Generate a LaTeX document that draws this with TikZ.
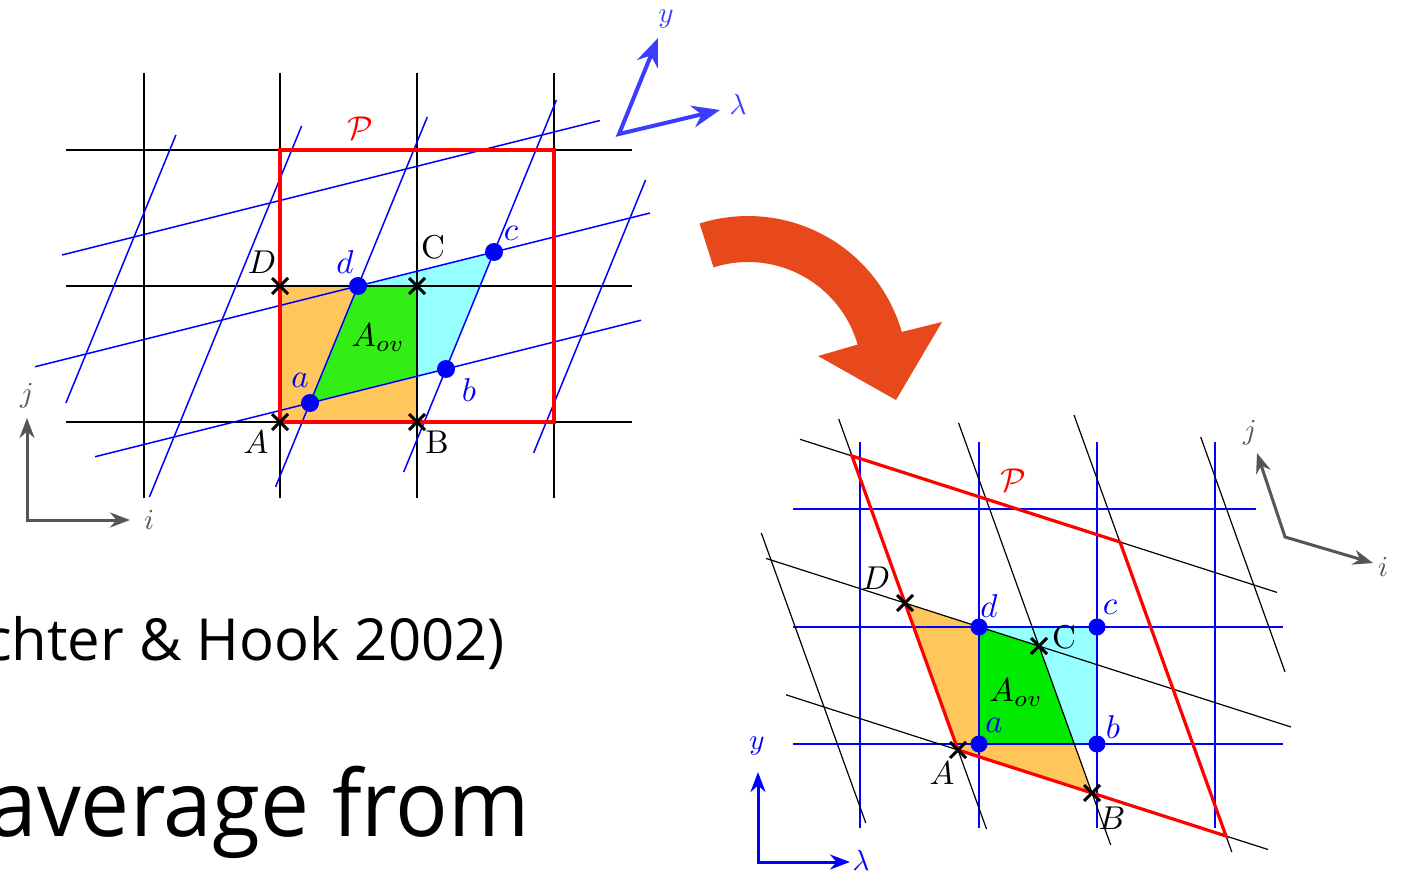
\documentclass[tikz,border=0pt]{standalone}
\usepackage{fontspec}
\newfontfamily\gillish{Open Sans}
\usetikzlibrary{arrows.meta,calc}
\definecolor{lorange}{RGB}{255,198,92}
\definecolor{lcyan}{RGB}{150,255,255}
\definecolor{lgreen}{RGB}{50,238,20}
\definecolor{rgreen}{RGB}{0,235,0}
\definecolor{axgray}{RGB}{85,85,85}
\definecolor{axblue}{RGB}{60,60,255}
\definecolor{arrowor}{RGB}{232,73,28}
\tikzset{
  gridk/.style={black,line width=1.4pt},
  gridb/.style={blue,line width=1.5pt},
  perim/.style={red,line width=3.2pt,line join=miter},
  xmark/.style={black,line width=3pt},
  dotb/.style={fill=blue,draw=none},
  lbl/.style={inner sep=0pt},
  lblb/.style={lbl,text=blue},
  axlbl/.style={inner sep=0pt},
}
\newcommand{\lab}[1]{\scalebox{3.3}{#1}}
\newcommand{\axl}[1]{\scalebox{2.9}{#1}}
\newcommand{\xcross}[1]{\draw[xmark] ($(#1)+(-8,-8)$) -- ($(#1)+(8,8)$) ($(#1)+(-8,8)$) -- ($(#1)+(8,-8)$);}
\begin{document}
\begin{tikzpicture}[x=1pt,y=-1pt]
\useasboundingbox (0,0) rectangle (1408,874);
\clip (0,0) rectangle (1408,874);
\fill[white] (0,0) rectangle (1408,874);
% ================= LEFT DIAGRAM =================
\coordinate (LA) at (280,422);
\coordinate (LB) at (417,422);
\coordinate (LC) at (417,286);
\coordinate (LD) at (280,286);
\coordinate (la) at (310,403);
\coordinate (lb) at (446,369);
\coordinate (lc) at (494,252);
\coordinate (ld) at (358,286);
\fill[lorange] (LA) rectangle (LC);
\fill[lcyan] (la) -- (lb) -- (lc) -- (ld) -- cycle;
\begin{scope}
  \clip (LA) rectangle (LC);
  \fill[lgreen] (la) -- (lb) -- (lc) -- (ld) -- cycle;
\end{scope}
% black grid
\foreach \x in {144,280,417,554} \draw[gridk] (\x,73) -- (\x,498);
\foreach \y in {150,286,422} \draw[gridk] (66,\y) -- (632,\y);
% blue shallow lines
\draw[gridb] (95,456.75) -- (641,320.25);
\draw[gridb] (35,366.75) -- (650,213);
\draw[gridb] (62,255) -- (600,120.5);
% blue steep lines
\draw[gridb] (65.9,403) -- (175.9,135);
\draw[gridb] (149.4,497) -- (301.6,126);
\draw[gridb] (275.5,487) -- (427.3,117);
\draw[gridb] (403.7,472) -- (556.4,100);
\draw[gridb] (533.6,453) -- (645.6,180);
% red P
\draw[perim] (280,150) rectangle (554,422);
% crosses
\xcross{LA}\xcross{LB}\xcross{LC}\xcross{LD}
% dots
\foreach \p in {la,lb,lc,ld} \fill[dotb] (\p) circle (9);
% labels
\node[lbl,text=red] (lP) at (360,128) {\lab{$\mathcal{P}$}};
\node[lbl] (lDl) at (262,262) {\lab{$D$}};
\node[lbl] (lCl) at (433,247) {\lab{C}};
\node[lblb] (ldl) at (345,262) {\lab{$d$}};
\node[lblb] (lcl) at (511,233) {\lab{$c$}};
\node[lbl] (lAov) at (378,338) {\lab{$A_{ov}$}};
\node[lblb] (lal) at (300,380) {\lab{$a$}};
\node[lblb] (lbl) at (469,390) {\lab{$b$}};
\node[lbl] (lAl) at (256,442) {\lab{$A$}};
\node[lbl] (lBl) at (437,442) {\lab{B}};
% gray axes
\coordinate (lo) at (27,520);
\coordinate (ljt) at (27,418);
\coordinate (lit) at (130,520);
\draw[axgray,line width=3pt,{Stealth[length=20pt,width=15pt]}-{Stealth[length=20pt,width=15pt]}] (ljt) -- (lo) -- (lit);
\node[axlbl,text=axgray] (lj) at (27,396) {\axl{$j$}};
\node[axlbl,text=axgray] (li) at (149,520) {\axl{$i$}};
% blue rotated axes
\coordinate (bo) at (619,134);
\coordinate (byt) at (658,38);
\coordinate (blt) at (720,110);
\draw[axblue,line width=4pt,line join=miter,{Stealth[length=28pt,width=22pt]}-{Stealth[length=28pt,width=22pt]}] (byt) -- (bo) -- (blt);
\node[axlbl,text=axblue] (byl) at (666,19) {\axl{$y$}};
\node[axlbl,text=axblue] (bll) at (738,104) {\axl{$\lambda$}};
% ================= ORANGE ARROW =================
\fill[arrowor] (699.6,223.5) arc[start angle=-107.6,end angle=-16,radius=160]
  -- (942,322) -- (896,400) -- (818,356) -- (857.6,344.6)
  arc[start angle=-16,end angle=-107.6,radius=114] -- cycle;
% ================= RIGHT DIAGRAM =================
\coordinate (RA) at (958,750);
\coordinate (RB) at (1092,793);
\coordinate (RC) at (1039,646);
\coordinate (RD) at (905,603);
\coordinate (ra) at (979,744);
\coordinate (rb) at (1097,744);
\coordinate (rc) at (1097,627);
\coordinate (rd) at (979,627);
\fill[lorange] (RA) -- (RB) -- (RC) -- (RD) -- cycle;
\fill[lcyan] (ra) rectangle (rc);
\begin{scope}
  \clip (RA) -- (RB) -- (RC) -- (RD) -- cycle;
  \fill[rgreen] (ra) rectangle (rc);
\end{scope}
% blue grid
\foreach \x in {860,979,1097,1215} \draw[gridb] (\x,442) -- (\x,828);
\draw[gridb] (793,509) -- (1256,509);
\draw[gridb] (793,627) -- (1283,627);
\draw[gridb] (793,744) -- (1283,744);
% black skew lines (i-direction)
\draw[gridk,line width=1.2pt] (786,694.8) -- (1268,849.5);
\draw[gridk,line width=1.2pt] (766,558.4) -- (1291,727);
\draw[gridk,line width=1.2pt] (800,439.3) -- (1277,592.4);
% black skew lines (j-direction)
\draw[gridk,line width=1.2pt] (761.3,533) -- (865.8,823);
\draw[gridk,line width=1.2pt] (838.7,419) -- (986.5,829);
\draw[gridk,line width=1.2pt] (958.6,423) -- (1110.7,845);
\draw[gridk,line width=1.2pt] (1074,415) -- (1231.8,852);
\draw[gridk,line width=1.2pt] (1200.7,437) -- (1285,672);
% red P
\draw[perim] (958,750) -- (1226,836) -- (1120,542) -- (852,456) -- cycle;
% crosses
\xcross{RA}\xcross{RB}\xcross{RC}\xcross{RD}
% dots
\foreach \p in {ra,rb,rc,rd} \fill[dotb] (\p) circle (8.5);
% labels
\node[lbl,text=red] (rP) at (1013,480) {\lab{$\mathcal{P}$}};
\node[lbl] (rDl) at (876,578) {\lab{$D$}};
\node[lblb] (rdl) at (989,606) {\lab{$d$}};
\node[lblb] (rcl) at (1110,607) {\lab{$c$}};
\node[lbl] (rCl) at (1064,637) {\lab{C}};
\node[lbl] (rAov) at (1016,693) {\lab{$A_{ov}$}};
\node[lblb] (ral) at (994,725) {\lab{$a$}};
\node[lblb] (rbl) at (1113,727) {\lab{$b$}};
\node[lbl] (rAl) at (942,773) {\lab{$A$}};
\node[lbl] (rBl) at (1112,818) {\lab{$B$}};
% gray rotated axes
\coordinate (ro) at (1285,537);
\coordinate (rjt) at (1257,453);
\coordinate (rit) at (1373,563);
\draw[axgray,line width=3pt,line join=miter,{Stealth[length=20pt,width=15pt]}-{Stealth[length=20pt,width=15pt]}] (rjt) -- (ro) -- (rit);
\node[axlbl,text=axgray] (rj) at (1250,433) {\axl{$j$}};
\node[axlbl,text=axgray] (ri) at (1383,567) {\axl{$i$}};
% blue axes
\coordinate (qo) at (758,862);
\coordinate (qyt) at (758,772);
\coordinate (qlt) at (850,862);
\draw[blue,line width=3pt,{Stealth[length=20pt,width=15pt]}-{Stealth[length=20pt,width=15pt]}] (qyt) -- (qo) -- (qlt);
\node[axlbl,text=blue] (qyl) at (757,746) {\axl{$y$}};
\node[axlbl,text=blue] (qll) at (861,860) {\axl{$\lambda$}};
% ================= TEXT =================
\node[anchor=base east,inner sep=0pt,font=\gillish\fontsize{58}{64}\selectfont] (t1) at (505,660) {chter \& Hook 2002)};
\node[anchor=base east,inner sep=0pt,font=\gillish\fontsize{92}{100}\selectfont] (t2) at (530,836) {\scalebox{0.95}[1]{average from}};
\end{tikzpicture}
\end{document}
